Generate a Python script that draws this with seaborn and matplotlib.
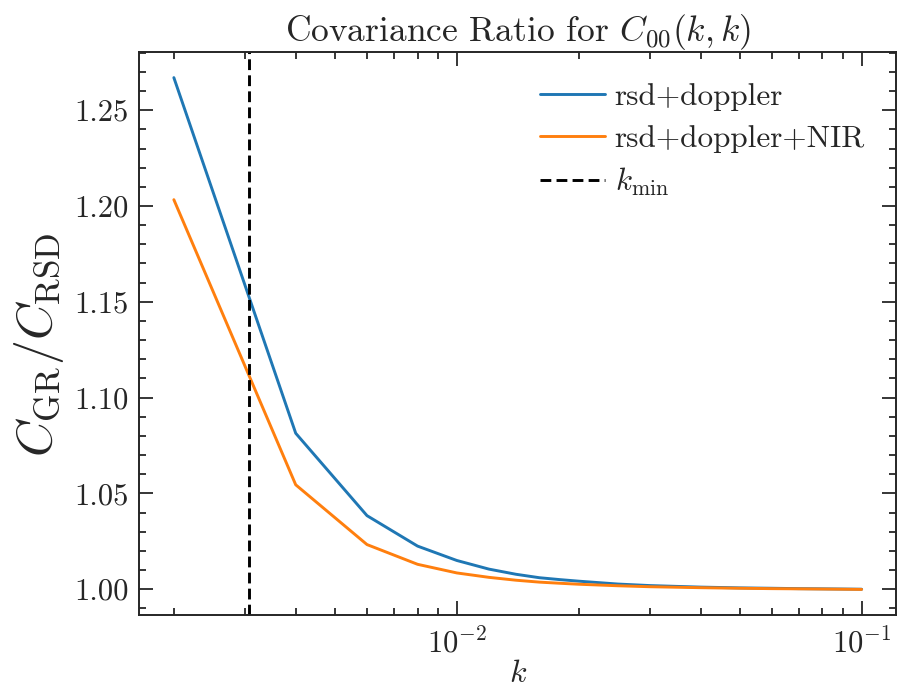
import numpy as np
import pandas as pd
import matplotlib
matplotlib.use("Agg")
import matplotlib.pyplot as plt
import matplotlib.ticker as mticker
from matplotlib.lines import Line2D
import seaborn as sns

k = [0.002, 0.004, 0.006, 0.008, 0.010, 0.012, 0.014, 0.016, 0.018, 0.020,
     0.025, 0.030, 0.040, 0.050, 0.060, 0.070, 0.080, 0.090, 0.100]
rsd_doppler = [1.2670, 1.0814, 1.0384, 1.0225, 1.0150, 1.0105, 1.0078, 1.0060, 1.0050, 1.0042,
               1.0027, 1.0019, 1.0011, 1.0007, 1.0005, 1.0003, 1.0002, 1.0001, 1.0000]
rsd_doppler_nir = [1.2033, 1.0545, 1.0233, 1.0130, 1.0085, 1.0062, 1.0047, 1.0037, 1.0031, 1.0026,
                   1.0018, 1.0013, 1.0008, 1.0005, 1.0003, 1.0002, 1.0001, 1.0000, 0.9999]
series_names = ["rsd+doppler", "rsd+doppler+NIR"]
k_min = 0.00306

df = pd.DataFrame({
    "k": k * 2,
    "ratio": rsd_doppler + rsd_doppler_nir,
    "model": [series_names[0]] * len(k) + [series_names[1]] * len(k),
})

sns.set_style("ticks")
plt.rcParams["font.family"] = ["cmr10", "DejaVu Serif"]
plt.rcParams["mathtext.fontset"] = "cm"
plt.rcParams["axes.formatter.use_mathtext"] = True
plt.rcParams["axes.unicode_minus"] = False

fig = plt.figure(figsize=(8.98, 6.89), dpi=100)
ax = fig.add_axes([0.1553, 0.1074, 0.8425, 0.8171])

dash = (0, (3.7, 1.8))
sns.lineplot(data=df, x="k", y="ratio", hue="model",
             palette=["#1f77b4", "#ff7f0e"], linewidth=2.1, ax=ax, legend=False)
ax.axvline(k_min, color="black", linestyle=dash, linewidth=2.1)

ax.set_xscale("log")
ax.margins(x=0.05, y=0.05)

ax.yaxis.set_major_locator(mticker.MultipleLocator(0.05))
ax.yaxis.set_minor_locator(mticker.MultipleLocator(0.01))
ax.yaxis.set_major_formatter(mticker.FormatStrFormatter("%.2f"))
ax.xaxis.set_minor_formatter(mticker.NullFormatter())

ax.tick_params(which="both", direction="in", top=True, right=True, labelsize=22, width=1.3)
ax.tick_params(which="major", length=10)
ax.tick_params(which="minor", length=5)
ax.tick_params(axis="y", which="major", pad=8)
ax.tick_params(axis="x", which="major", pad=9)
for s in ax.spines.values():
    s.set_linewidth(1.4)

ax.set_xlabel(r"$k$", fontsize=23, labelpad=1)
ax.set_ylabel(r"$C_{\rm GR}/C_{\rm RSD}$", fontsize=36)
ax.yaxis.set_label_coords(-0.097, 0.48)
ax.set_title(r"Covariance Ratio for $C_{00}(k,k)$", fontsize=25.5, pad=8)

handles = [Line2D([], [], color="#1f77b4", lw=2.1),
           Line2D([], [], color="#ff7f0e", lw=2.1),
           Line2D([], [], color="black", lw=2.1, linestyle=dash)]
labels = series_names + [r"$k_{\rm min}$"]
ax.legend(handles, labels, frameon=False, fontsize=22.5, loc="upper right",
          handlelength=2.1, handletextpad=0.3, borderaxespad=0.6, labelspacing=0.43)

fig.savefig("out.png", dpi=100)
